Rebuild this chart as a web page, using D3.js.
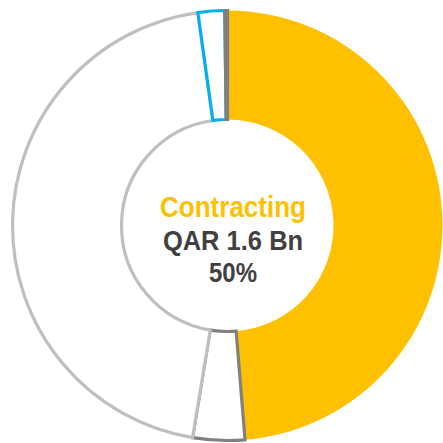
<!DOCTYPE html>
<html>
  <head>
    <meta charset="utf-8" />
    <script src="https://d3js.org/d3.v7.min.js"></script>
    <style>
      body { margin: 0; background: #fff; }
    </style>
  </head>
  <body>
    <div id="my_dataviz"></div>
    <script>
      // segments, clockwise from 12 o'clock (share of the ring, %)
      var categories = ["Contracting", "Segment B", "Segment C", "Segment D", "Segment E"];
      var values = [48.7, 3.9, 45.2, 2.0, 0.2];
      var fills = ["#FFC000", "#FFFFFF", "#FFFFFF", "#FFFFFF", "#FFFFFF"];
      var strokes = ["none", "#808080", "#BFBFBF", "#00B0F0", "#808080"];

      // centre label
      var labelTitle = "Contracting";
      var labelValue = "QAR 1.6 Bn";
      var labelShare = "50%";

      var width = 443, height = 443;
      var cx = 227.5, cy = 225.5;
      var outerR = 215, innerR = 106;

      var svg = d3
        .select("#my_dataviz")
        .append("svg")
        .attr("width", width)
        .attr("height", height);

      var g = svg.append("g").attr("transform", "translate(" + cx + "," + cy + ")");

      var data = categories.map(function (c, i) {
        return { name: c, value: values[i], fill: fills[i], stroke: strokes[i] };
      });

      var pie = d3.pie().sort(null).value(function (d) { return d.value; });
      var arc = d3.arc().innerRadius(innerR).outerRadius(outerR);

      g.selectAll("path")
        .data(pie(data))
        .enter()
        .append("path")
        .attr("d", arc)
        .style("fill", function (d) { return d.data.fill; })
        .style("stroke", function (d) { return d.data.stroke; })
        .style("stroke-width", 3.2)
        .style("stroke-linejoin", "miter");

      // centre text (slightly tall glyphs, like the original)
      var lines = [
        { text: labelTitle, y: 217, size: 26, color: "#FFC000" },
        { text: labelValue, y: 250, size: 25.5, color: "#404040" },
        { text: labelShare, y: 281.5, size: 24, color: "#404040" }
      ];

      svg.selectAll("text.centre")
        .data(lines)
        .enter()
        .append("text")
        .attr("class", "centre")
        .attr("transform", function (d) { return "translate(233," + d.y + ") scale(1,1.12)"; })
        .attr("text-anchor", "middle")
        .style("font-family", "'Liberation Sans', Arial, sans-serif")
        .style("font-weight", "bold")
        .style("font-size", function (d) { return d.size + "px"; })
        .style("fill", function (d) { return d.color; })
        .text(function (d) { return d.text; });
    </script>
  </body>
</html>
